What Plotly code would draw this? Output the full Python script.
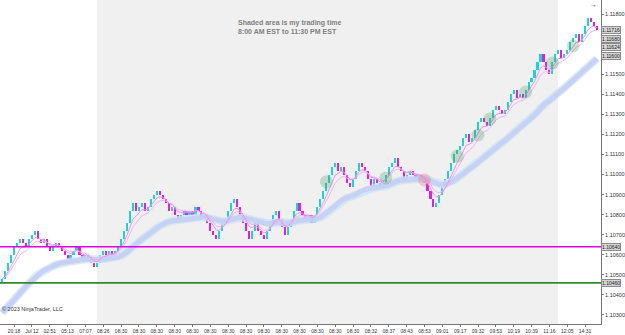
import plotly.graph_objects as go
import pandas as pd

# ---------------- data ----------------
first_open = 1.10460
closes = [
    1.10480, 1.10520, 1.10560, 1.10600, 1.10640, 1.10660, 1.10680, 1.10660, 1.10640, 1.10680, 1.10700, 1.10720,
    1.10680, 1.10660, 1.10680, 1.10640, 1.10620, 1.10640, 1.10660, 1.10640, 1.10620, 1.10600, 1.10580, 1.10600,
    1.10620, 1.10640, 1.10600, 1.10580, 1.10600, 1.10580, 1.10560, 1.10540, 1.10560, 1.10600, 1.10620, 1.10600,
    1.10620, 1.10600, 1.10620, 1.10640,
    1.10680, 1.10720, 1.10760, 1.10820, 1.10860, 1.10820, 1.10840, 1.10860, 1.10820, 1.10840, 1.10880, 1.10900, 1.10920,
    1.10900, 1.10880, 1.10860, 1.10820, 1.10840, 1.10800, 1.10780, 1.10800, 1.10820, 1.10800, 1.10820, 1.10800,
    1.10840, 1.10820, 1.10780, 1.10800, 1.10760, 1.10720, 1.10700, 1.10680,
    1.10720, 1.10760, 1.10780, 1.10820, 1.10860, 1.10880, 1.10840, 1.10800, 1.10760, 1.10720, 1.10680, 1.10720,
    1.10760, 1.10720, 1.10700, 1.10680, 1.10720, 1.10760, 1.10800, 1.10820, 1.10780, 1.10740, 1.10700, 1.10740,
    1.10780, 1.10820, 1.10860,
    1.10820, 1.10800, 1.10780, 1.10800, 1.10760, 1.10800, 1.10840, 1.10880, 1.10920, 1.10960, 1.11000, 1.11040,
    1.11060, 1.11020, 1.11040, 1.11000, 1.10960, 1.10940,
    1.10980, 1.11020, 1.11060, 1.11040, 1.11020, 1.10980, 1.10940, 1.10980, 1.10960, 1.10940, 1.10960, 1.11000,
    1.11040, 1.11060, 1.11080, 1.11040, 1.11020, 1.10980, 1.11000, 1.11020, 1.11000, 1.10980, 1.11000, 1.10980,
    1.10960, 1.10920, 1.10880, 1.10840,
    1.10860, 1.10900, 1.10940, 1.10980, 1.11020, 1.11060, 1.11100, 1.11120, 1.11140, 1.11180, 1.11200, 1.11160,
    1.11180, 1.11220, 1.11260, 1.11280, 1.11260, 1.11240, 1.11280, 1.11320, 1.11340,
    1.11320, 1.11300, 1.11320, 1.11360, 1.11400, 1.11420, 1.11380, 1.11400, 1.11380, 1.11420, 1.11460, 1.11480,
    1.11520, 1.11560, 1.11600, 1.11560, 1.11520, 1.11500, 1.11560, 1.11600, 1.11620, 1.11580, 1.11600, 1.11620,
    1.11660, 1.11680, 1.11700, 1.11660, 1.11700, 1.11740, 1.11780, 1.11760, 1.11740, 1.11720,
]
slow_ma_seed = 1.10300

time_labels = ["20:18", "Jul 12", "02:51", "05:13", "07:07", "08:26"] + ["08:30"] * 14 + [
    "08:32", "08:37", "08:43", "08:53", "09:01", "09:17", "09:32", "09:53", "10:19", "10:39", "11:16", "12:05", "14:31"]
time_label_bars = [4 + 6 * k for k in range(len(time_labels))]

price_ticks = [1.103, 1.104, 1.105, 1.106, 1.107, 1.108, 1.109, 1.110, 1.111, 1.112, 1.113, 1.114, 1.115, 1.118]

session_start_bar = 31.8
session_end_bar = 186.9

level_prices = [1.10640, 1.10460]
level_colors = ["#E000E0", "#2E8B2E"]

signal_bars = [109, 129, 153, 160, 164, 176, 185, 192]
signal_prices = [1.10963, 1.10983, 1.11092, 1.11197, 1.11277, 1.11411, 1.11556, 1.11641]
warn_bars = [142]
warn_prices = [1.10973]

price_box_values = [1.11716, 1.11680, 1.11624, 1.11600, 1.10640, 1.10460]
price_box_shift = [1, -1, 2, -2, 0, 0]

# ---------------- build ----------------
n = len(closes)
idx = list(range(n))
opens = [first_open] + closes[:-1]
up_x, up_base, up_h, dn_x, dn_base, dn_h = [], [], [], [], [], []
for i in idx:
    o, c = opens[i], closes[i]
    if c >= o:
        up_x.append(i); up_base.append(o); up_h.append(c - o)
    else:
        dn_x.append(i); dn_base.append(c); dn_h.append(o - c)

s = pd.Series(closes)
ema_fast1 = s.ewm(span=5, adjust=False).mean()
ema_fast2 = s.ewm(span=8, adjust=False).mean()
slow = pd.Series([slow_ma_seed] + closes).ewm(span=30, adjust=False).mean().iloc[1:].values

fig = go.Figure()

fig.add_trace(go.Scatter(x=idx, y=slow, mode="lines",
                         line=dict(color="rgba(200,228,246,0.75)", width=8), hoverinfo="skip"))
fig.add_trace(go.Scatter(x=idx, y=slow, mode="lines",
                         line=dict(color="rgba(198,204,243,0.85)", width=5), hoverinfo="skip"))
fig.add_trace(go.Scatter(x=idx, y=ema_fast2, mode="lines",
                         line=dict(color="#F4B0F0", width=1), hoverinfo="skip"))
fig.add_trace(go.Scatter(x=idx, y=ema_fast1, mode="lines",
                         line=dict(color="#F090EC", width=1), hoverinfo="skip"))

fig.add_trace(go.Bar(x=up_x, y=up_h, base=up_base, width=0.72,
                     marker=dict(color="#1ED3D6", line=dict(width=0))))
fig.add_trace(go.Bar(x=dn_x, y=dn_h, base=dn_base, width=0.72,
                     marker=dict(color="#E21EE2", line=dict(width=0))))

fig.add_trace(go.Scatter(x=signal_bars, y=signal_prices, mode="markers",
                         marker=dict(size=13, color="rgba(80,150,90,0.28)", line=dict(width=0))))
fig.add_trace(go.Scatter(x=warn_bars, y=warn_prices, mode="markers",
                         marker=dict(size=13, color="rgba(230,110,110,0.3)", line=dict(width=0))))

shapes = [dict(type="rect", xref="x", yref="paper", x0=session_start_bar, x1=session_end_bar,
               y0=0, y1=1, fillcolor="#F0F0F0", line=dict(width=0), layer="below")]
for p, col in zip(level_prices, level_colors):
    shapes.append(dict(type="line", xref="paper", yref="y", x0=0, x1=1, y0=p, y1=p,
                       line=dict(color=col, width=1.6), layer="above"))

annotations = [
    dict(text="<b>Shaded area is my trading time<br>8:00 AM EST to 11:30 PM EST</b>",
         xref="paper", yref="paper", x=0.392, y=0.948, xanchor="left", yanchor="top",
         align="left", showarrow=False, font=dict(size=7, color="#808080", family="Liberation Sans")),
    dict(text="© 2023 NinjaTrader, LLC", xref="paper", yref="paper", x=0.0, y=0.046,
         xanchor="left", yanchor="middle", showarrow=False,
         font=dict(size=5.5, color="#333333", family="Liberation Sans")),
    dict(text="→", xref="paper", yref="paper", x=0.988, y=0.985, xanchor="center", yanchor="middle",
         showarrow=False, font=dict(size=7, color="#333333", family="Liberation Sans")),
]
for v, sh in zip(price_box_values, price_box_shift):
    annotations.append(dict(text=f"{v:.5f}", xref="paper", yref="y", x=1.0, y=v, yshift=sh,
                            xanchor="left", yanchor="middle", showarrow=False,
                            bgcolor="#D6D6D6", bordercolor="#8C8C8C", borderwidth=1, borderpad=0,
                            font=dict(size=5, color="#222222", family="Liberation Sans")))

fig.update_layout(
    width=625, height=335,
    margin=dict(l=0, r=22, t=0, b=11),
    paper_bgcolor="white", plot_bgcolor="white",
    showlegend=False, barmode="overlay", bargap=0,
    shapes=shapes, annotations=annotations,
    xaxis=dict(range=[-0.72, 201.35], tickvals=time_label_bars, ticktext=time_labels,
               showgrid=False, zeroline=False, showline=True, linecolor="#777777", linewidth=1,
               ticks="outside", ticklen=2, tickcolor="#777777",
               tickfont=dict(size=5, color="#333333", family="Liberation Sans")),
    yaxis=dict(range=[1.10255, 1.11870], side="right", tickvals=price_ticks,
               ticktext=[f"{t:.5f}" for t in price_ticks],
               showgrid=False, zeroline=False, showline=True, linecolor="#777777", linewidth=1,
               ticks="outside", ticklen=2, tickcolor="#777777",
               tickfont=dict(size=5.5, color="#333333", family="Liberation Sans")),
)

fig.write_html("out.html")
